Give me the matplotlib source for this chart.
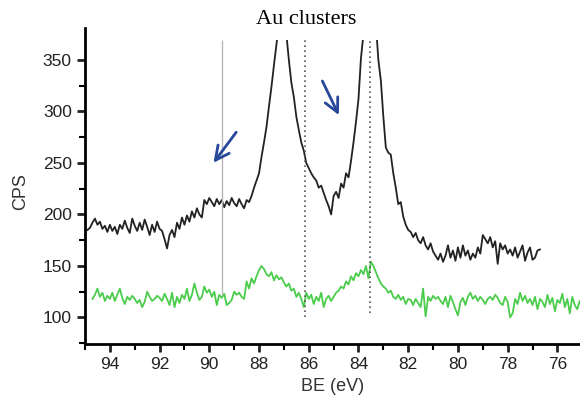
import numpy as np
import matplotlib
matplotlib.use("Agg")
from matplotlib import pyplot as plt
from matplotlib.ticker import MultipleLocator

# black trace, 94.9 -> 76.7 eV, 0.1 eV step
black_start = 94.9
black_cps = [
    185, 187, 192, 196, 190, 193, 186, 189, 183, 190,
    184, 188, 181, 190, 186, 194, 187, 182, 196, 189,
    184, 192, 185, 195, 188, 180, 190, 183, 193, 186,
    184, 176, 167, 180, 185, 178, 192, 186, 197, 190,
    199, 193, 203, 197, 206, 200, 197, 214, 210, 216,
    212, 208, 215, 210, 214, 207, 213, 209, 216, 211,
    208, 215, 210, 206, 214, 212, 218, 226, 233, 240,
    256, 270, 285, 305, 324, 345, 365, 385, 400, 390,
    375, 350, 328, 314, 295, 282, 270, 262, 250, 245,
    240, 236, 233, 226, 228, 221, 214, 208, 200, 218,
    222, 216, 230, 226, 240, 236, 252, 270, 290, 312,
    352, 375, 400, 415, 420, 410, 385, 350, 330, 295,
    265, 260, 258, 240, 226, 210, 212, 198, 190, 185,
    183, 178, 182, 175, 172, 178, 170, 166, 172, 164,
    160, 156, 162, 154, 160, 170, 158, 165, 155, 168,
    158, 170, 160, 165, 156, 162, 158, 168, 162, 180,
    176, 172, 178, 168, 174, 152, 172, 166, 170, 162,
    166, 160, 168, 158, 164, 170, 155, 163, 168, 156,
    158, 165, 166,
]

# green trace, 94.7 -> 75.0 eV, 0.1 eV step
green_start = 94.7
green_cps = [
    118, 122, 128, 120, 124, 116, 121, 118,
    124, 116, 122, 128, 119, 113, 120, 117, 121, 118,
    114, 117, 110, 115, 125, 120, 116, 118, 121, 119,
    116, 123, 118, 112, 124, 110, 120, 114, 122, 118,
    128, 116, 122, 133, 124, 117, 120, 130, 124, 127,
    120, 125, 112, 122, 119, 123, 112, 114, 117, 125,
    122, 124, 120, 118, 135, 128, 138, 133, 140, 146,
    150, 147, 142, 140, 144, 136, 141, 137, 139, 134,
    130, 133, 126, 128, 120, 124, 118, 110, 124, 118,
    122, 113, 120, 116, 124, 110, 118, 121, 116, 120,
    124, 126, 130, 128, 135, 132, 140, 136, 143, 140,
    146, 142, 150, 138, 154, 150, 144, 138, 133, 130,
    128, 124, 126, 120, 118, 122, 117, 120, 113, 118,
    117, 112, 118, 114, 110, 128, 101, 120, 116, 121,
    118, 120, 116, 113, 120, 110, 121, 115, 108, 102,
    115, 119, 112, 120, 124, 118, 121, 116, 120, 117,
    113, 118, 120, 117, 122, 119, 114, 112, 120, 115,
    100, 104, 118, 113, 124, 116, 121, 114, 118, 112,
    120, 108, 118, 115, 110, 122, 113, 119, 106, 117,
    114, 123, 110, 118, 104, 120, 112, 108, 116, 110,
]

# reference lines: (position, lower end, style)
ref_lines = [(89.5, 122, "solid"), (86.15, 100, "dotted"), (83.55, 104, "dotted")]

y_top = 369.4
y_bottom = 74.2

black_be = black_start - 0.1 * np.arange(len(black_cps))
green_be = green_start - 0.1 * np.arange(len(green_cps))

fig = plt.figure(figsize=(5.8, 4.03), dpi=100)
ax = fig.add_axes([85 / 580, 1 - 344 / 403, 495 / 580, 304 / 403])

ax.plot(black_be, black_cps, color="#222222", lw=1.3)
ax.plot(green_be, green_cps, color="#4ccc4c", lw=1.3)

for pos, low, style in ref_lines:
    if style == "solid":
        ax.vlines(pos, low, y_top, color="#b8b8b8", lw=1.0)
    else:
        ax.vlines(pos, low, y_top, color="#555555", lw=1.2, linestyles=(0, (1, 2)))

# blue arrows
arrow_kw = dict(arrowstyle="->,head_length=1.0,head_width=0.5", color="#27479a", lw=2)
ax.annotate("", xy=(89.9, 248), xytext=(88.85, 282), arrowprops=arrow_kw)
ax.annotate("", xy=(84.74, 294), xytext=(85.5, 332), arrowprops=arrow_kw)

ax.set_xlim(95.0, 75.09)
ax.set_ylim(y_bottom, y_top)

for side in ["top", "right"]:
    ax.spines[side].set_visible(False)
ax.spines["left"].set_linewidth(2)
ax.spines["bottom"].set_linewidth(2)
ax.spines["left"].set_bounds(y_bottom, 381)

ax.xaxis.set_major_locator(MultipleLocator(2))
ax.xaxis.set_minor_locator(MultipleLocator(1))
ax.yaxis.set_major_locator(MultipleLocator(50))
ax.yaxis.set_minor_locator(MultipleLocator(25))
ax.set_yticks([100, 150, 200, 250, 300, 350])
ax.tick_params(which="major", length=6, width=2, labelsize=12.5, colors="#222222")
ax.tick_params(which="minor", length=4, width=1.5)

ax.set_xlabel("BE (eV)", fontsize=13, color="#333333", labelpad=4)
ax.set_ylabel("CPS", fontsize=13, color="#333333", labelpad=10)
for lab in ax.get_xticklabels() + ax.get_yticklabels():
    lab.set_family("Liberation Sans")
ax.xaxis.label.set_family("Liberation Sans")
ax.yaxis.label.set_family("Liberation Sans")

fig.text(306 / 580, 1 - 20 / 403, "Au clusters", family="Liberation Serif",
         fontsize=16, ha="center", va="center")

fig.savefig("out.png", dpi=100)
